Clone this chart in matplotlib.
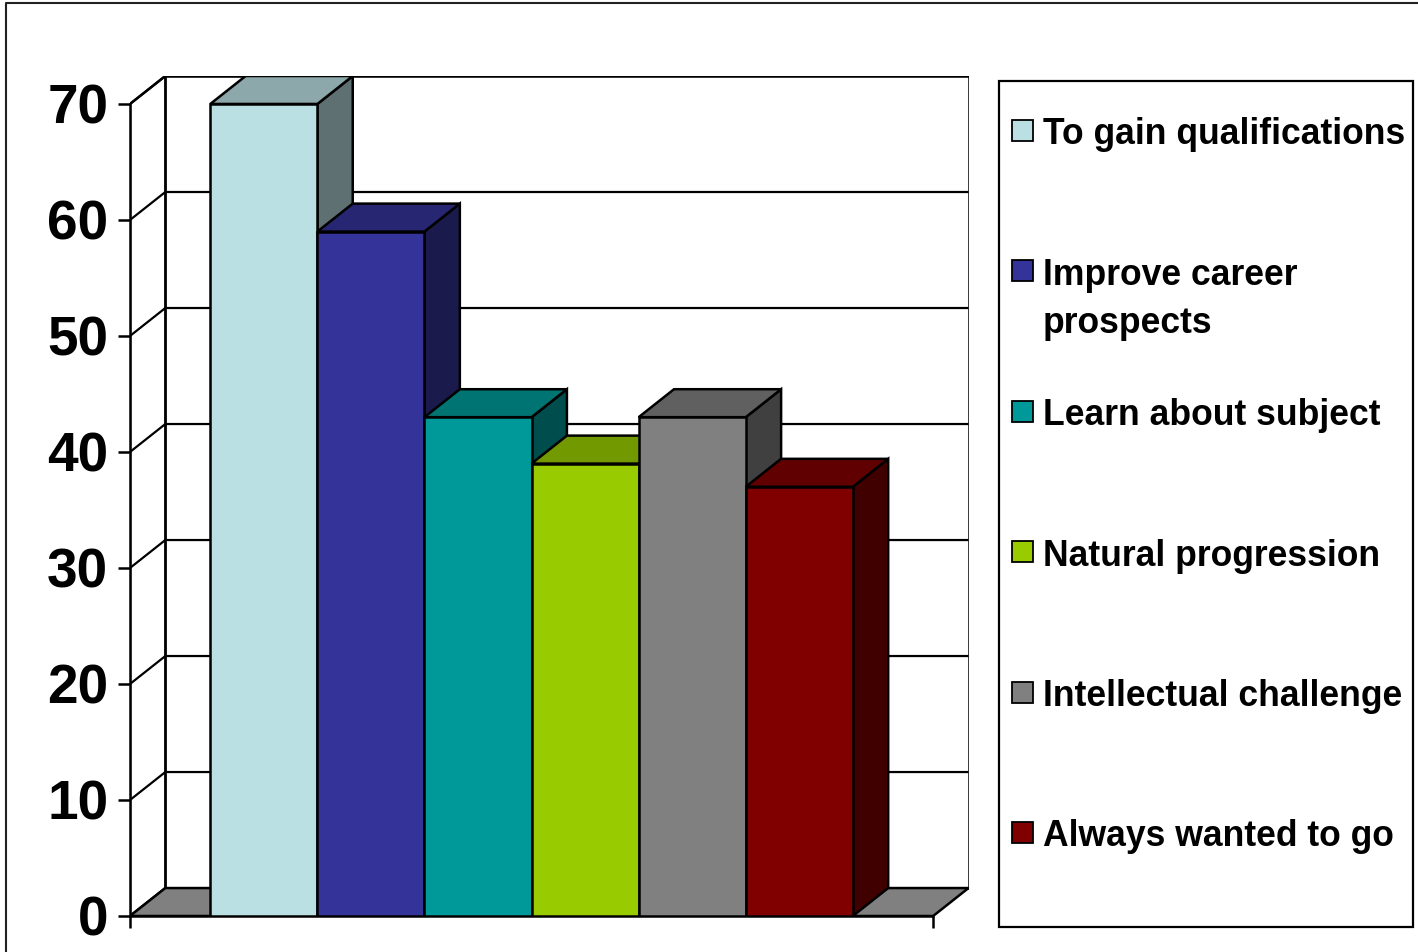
import matplotlib
matplotlib.use("Agg")
import matplotlib.pyplot as plt
import matplotlib.colors as mcolors
from matplotlib.patches import Polygon, Rectangle

# ── Data ─────────────────────────────────────────────────────────────────────
categories = [
    "To gain qualifications",
    "Improve career\nprospects",
    "Learn about subject",
    "Natural progression",
    "Intellectual challenge",
    "Always wanted to go",
]
values = [70, 59, 43, 39, 43, 37]
bar_colors = ["#BBE0E3", "#333399", "#009999", "#99CC00", "#808080", "#800000"]
y_ticks = [0, 10, 20, 30, 40, 50, 60, 70]

# ── Layout ───────────────────────────────────────────────────────────────────
W, H = 1418, 952
DX, DY = 0.33, 2.41             # fake 3D depth, in data units
GAP = 0.75                      # floor margin either side of the bar block
X0 = -0.5 - GAP                 # front-left corner of floor
X1 = len(values) - 0.5 + GAP    # front-right corner of floor
YMAX = y_ticks[-1]
LW = 1.8

plt.rcParams["font.family"] = ["Liberation Sans", "DejaVu Sans"]


def shade(color, f):
    r, g, b = mcolors.to_rgb(color)
    return (r * f, g * f, b * f)


fig = plt.figure(figsize=(W / 100, H / 100), dpi=100)
fig.patch.set_facecolor("white")

ax = fig.add_axes([130 / W, (H - 916) / H, 838.5 / W, 840 / H])
ax.set_xlim(X0, X1 + DX)
ax.set_ylim(0, YMAX + DY)
ax.patch.set_alpha(0)

# walls and floor
back = [(X0 + DX, DY), (X1 + DX, DY), (X1 + DX, YMAX + DY), (X0 + DX, YMAX + DY)]
left = [(X0, 0), (X0 + DX, DY), (X0 + DX, YMAX + DY), (X0, YMAX)]
floor = [(X0, 0), (X1, 0), (X1 + DX, DY), (X0 + DX, DY)]
ax.add_patch(Polygon(back, closed=True, fc="white", ec="black", lw=LW, zorder=1))
ax.add_patch(Polygon(left, closed=True, fc="white", ec="black", lw=LW, zorder=1))
ax.add_patch(Polygon(floor, closed=True, fc="#808080", ec="black", lw=LW, zorder=1.5))

for v in y_ticks[1:]:
    ax.plot([X0, X0 + DX, X1 + DX], [v, v + DY, v + DY], color="black",
            lw=1.6, zorder=1.2, solid_capstyle="butt")

# bars, left to right so later ones sit in front of earlier side faces
for i, (v, c) in enumerate(zip(values, bar_colors)):
    l, r = i - 0.5, i + 0.5
    z = 3 + i * 0.1
    front = [(l, 0), (r, 0), (r, v), (l, v)]
    top = [(l, v), (r, v), (r + DX, v + DY), (l + DX, v + DY)]
    side = [(r, 0), (r + DX, DY), (r + DX, v + DY), (r, v)]
    ax.add_patch(Polygon(side, closed=True, fc=shade(c, 0.5), ec="black",
                         lw=LW, joinstyle="miter", zorder=z))
    ax.add_patch(Polygon(top, closed=True, fc=shade(c, 0.75), ec="black",
                         lw=LW, joinstyle="miter", zorder=z))
    ax.add_patch(Polygon(front, closed=True, fc=c, ec="black",
                         lw=LW, joinstyle="miter", zorder=z))

# axes lines and ticks
for s in ("top", "right"):
    ax.spines[s].set_visible(False)
ax.spines["left"].set_bounds(0, YMAX)
ax.spines["bottom"].set_bounds(X0, X1)
for s in ("left", "bottom"):
    ax.spines[s].set_linewidth(LW)
    ax.spines[s].set_zorder(2)
ax.set_yticks(y_ticks)
ax.set_yticklabels([str(t) for t in y_ticks], fontsize=39.6, fontweight="bold")
ax.set_xticks([X0, X1])
ax.set_xticklabels([])
ax.tick_params(direction="out", length=8.6, width=LW, pad=7)

# ── Overlay in pixel units: border and legend ────────────────────────────────
ov = fig.add_axes([0, 0, 1, 1])
ov.set_xlim(0, W)
ov.set_ylim(H, 0)
ov.axis("off")
ov.patch.set_alpha(0)

ov.plot([6, 6, W + 10], [H + 10, 3, 3], color="#222222", lw=1.5, clip_on=False)

ov.add_patch(Rectangle((999, 80.7), 413.7, 846.6, fc="white", ec="black", lw=1.6))
step = 140.4
for k, (lab, c) in enumerate(zip(categories, bar_colors)):
    ov.add_patch(Rectangle((1012, 120 + step * k), 21, 21, fc=c, ec="black", lw=1.3))
    for j, line in enumerate(lab.split("\n")):
        ov.text(1043, 144.3 + step * k + 48 * j, line, fontsize=25.6,
                fontweight="bold", ha="left", va="baseline")

fig.savefig("out.png", dpi=100, facecolor="white")
plt.close(fig)
